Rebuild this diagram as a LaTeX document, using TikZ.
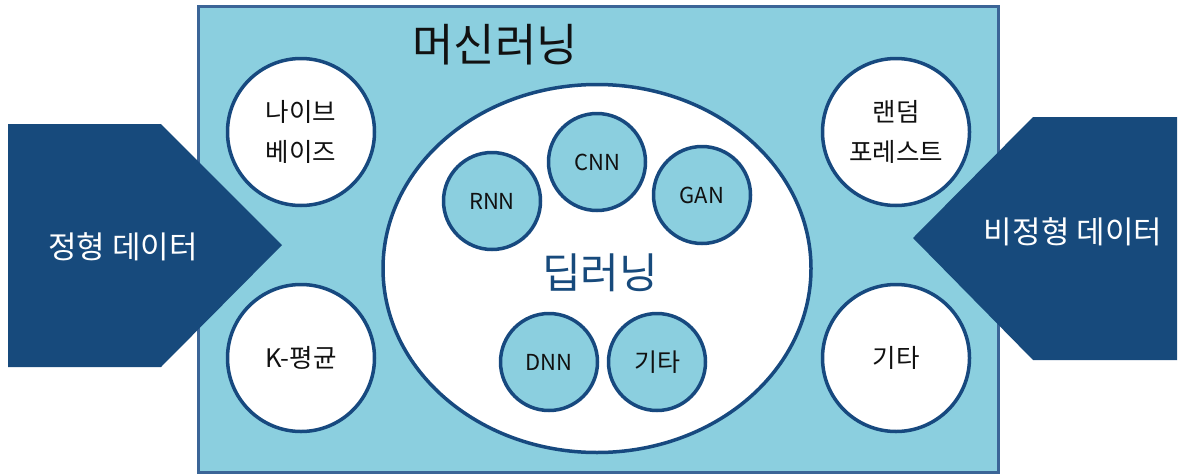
\documentclass[tikz,border=0pt]{standalone}
\usepackage{fontspec}
\setmainfont{Noto Sans CJK KR}
\definecolor{boxfill}{HTML}{8BCFDF}
\definecolor{boxline}{HTML}{3B6597}
\definecolor{darkblue}{HTML}{174A7C}
\definecolor{ringblue}{HTML}{17497F}
\definecolor{txt}{HTML}{111111}
\begin{document}
\begin{tikzpicture}[x=1pt,y=-1pt,
  outercirc/.style={circle,draw=ringblue,line width=3.5pt,fill=white,minimum size=147pt,inner sep=0pt,text=txt,font=\fontsize{25.5}{40}\selectfont,align=center},
  innercirc/.style={circle,draw=ringblue,line width=3.5pt,fill=boxfill,minimum size=97pt,inner sep=0pt,text=txt,font=\fontsize{22}{26}\selectfont},
  arrowtext/.style={text=white,font=\fontsize{31}{34}\selectfont,inner sep=0pt}]
\useasboundingbox (0,0) rectangle (1180,474);
% main box
\node[draw=boxline,line width=3pt,fill=boxfill,minimum width=800pt,minimum height=466pt,inner sep=0pt,anchor=north west] (box) at (197,5) {};
\node[text=txt,font=\fontsize{45}{48}\selectfont,inner sep=0pt] (ml) at (495,45) {머신러닝};
% arrows
\fill[darkblue] (8,124) -- (161,124) -- (282,245) -- (161,367) -- (8,367) -- cycle;
\node[arrowtext] (left) at (123,247) {정형 데이터};
\fill[darkblue] (1177,117) -- (1033,117) -- (913,238) -- (1033,360) -- (1177,360) -- cycle;
\node[arrowtext] (right) at (1073,232) {비정형 데이터};
% deep learning ellipse
\draw[ringblue,line width=3.5pt,fill=white] (597,268.5) ellipse [x radius=214, y radius=184];
\node[text=darkblue,font=\fontsize{42}{46}\selectfont,inner sep=0pt] (dl) at (600,273) {딥러닝};
% outer circles
\node[outercirc] (nb) at (301,132) {나이브\\베이즈};
\node[outercirc] (km) at (301,358) {K-평균};
\node[outercirc] (rf) at (896,132) {랜덤\\포레스트};
\node[outercirc] (etc1) at (896,358) {기타};
% inner circles
\node[innercirc] (rnn) at (492,201) {RNN};
\node[innercirc] (cnn) at (597,162) {CNN};
\node[innercirc] (gan) at (702,195) {GAN};
\node[innercirc] (dnn) at (549,362) {DNN};
\node[innercirc,font=\fontsize{25}{28}\selectfont] (etc2) at (657,362) {기타};
\end{tikzpicture}
\end{document}
